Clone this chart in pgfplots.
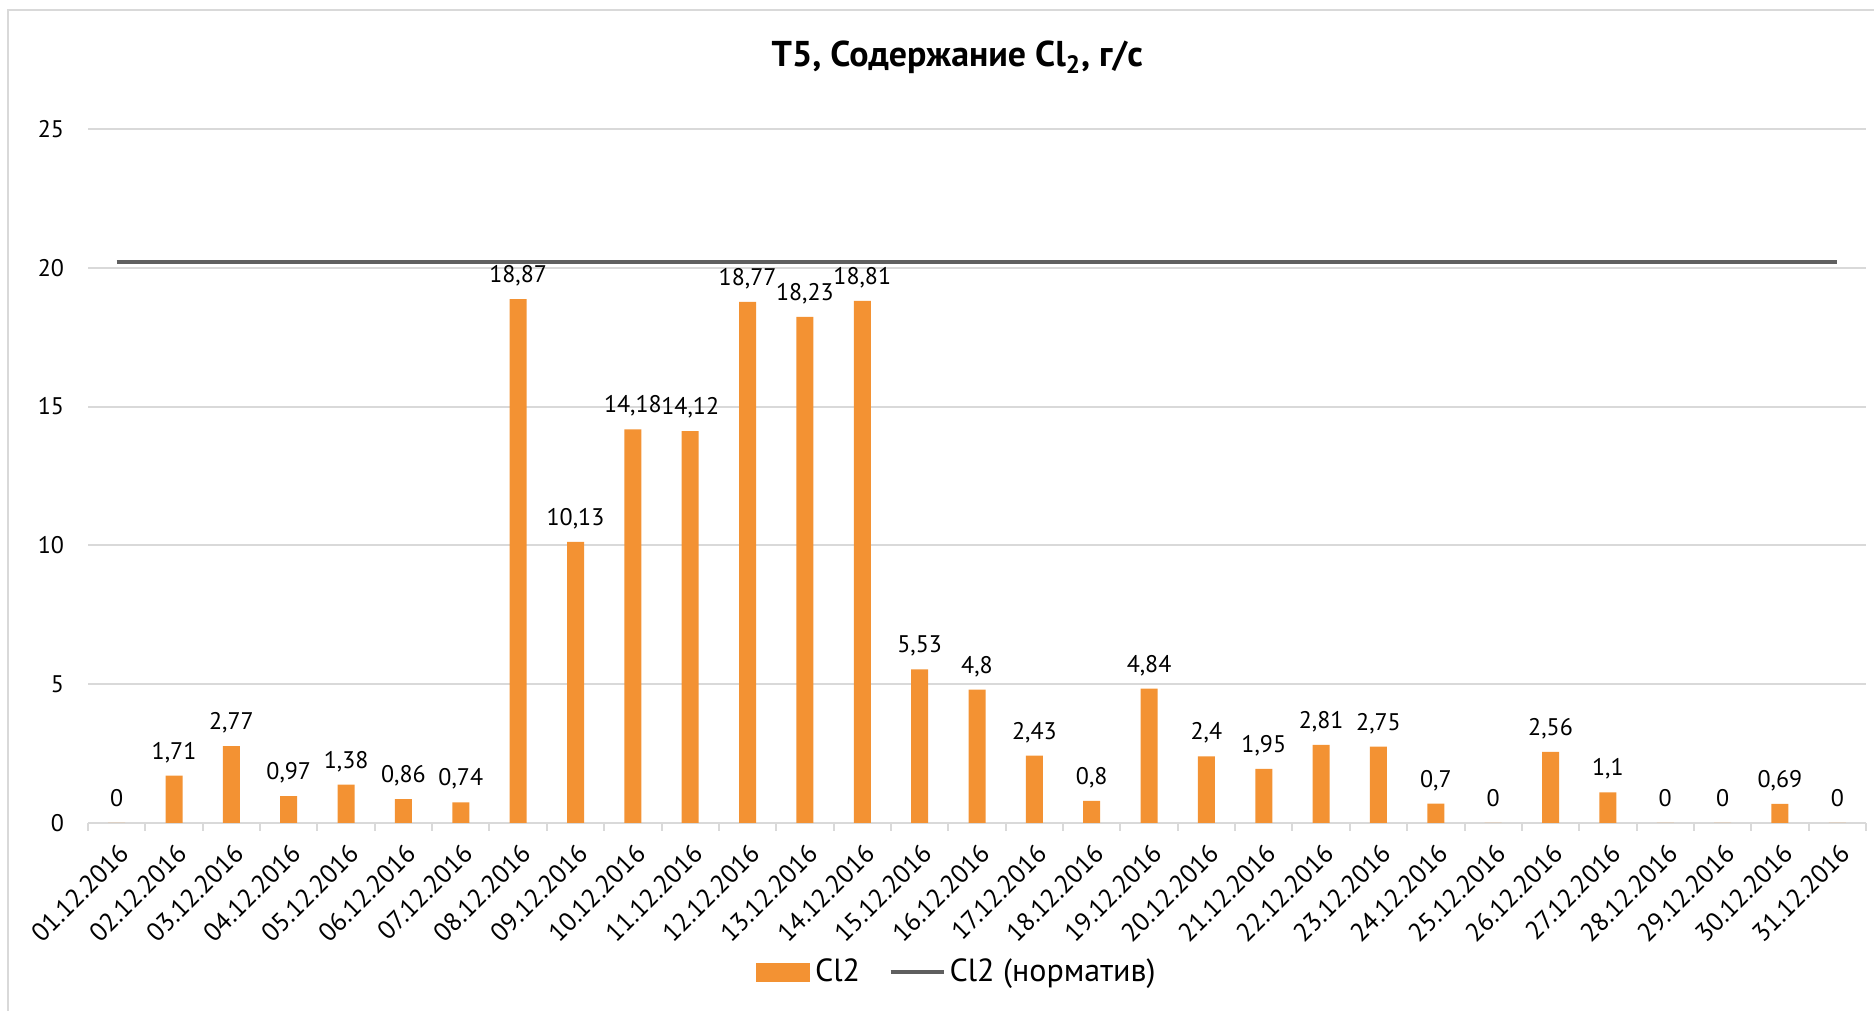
\documentclass[border=0pt]{standalone}
\usepackage{fontspec}
\setmainfont{PT Sans}
\usepackage{pgfplots}
\usepackage{pgfplotstable}
\pgfplotsset{compat=1.18}
\definecolor{barorange}{HTML}{F39233}
\definecolor{normgray}{HTML}{5F5F5F}
\definecolor{gridgray}{HTML}{D9D9D9}
\pgfplotstableread{
x y
1 0
2 1.71
3 2.77
4 0.97
5 1.38
6 0.86
7 0.74
8 18.87
9 10.13
10 14.18
11 14.12
12 18.77
13 18.23
14 18.81
15 5.53
16 4.8
17 2.43
18 0.8
19 4.84
20 2.4
21 1.95
22 2.81
23 2.75
24 0.7
25 0
26 2.56
27 1.1
28 0
29 0
30 0.69
31 0
}\cltable
\pgfplotstableread{
x y
1 20.2
31 20.2
}\normtable
\begin{document}
\begin{tikzpicture}
\useasboundingbox (0,0) rectangle (937pt,505.5pt);
\draw[gridgray, line width=1pt] (4pt,-20pt) -- (4pt,500.5pt) -- (960pt,500.5pt);
\begin{axis}[
  at={(44pt,94pt)}, anchor=south west,
  scale only axis, width=889pt, height=347pt,
  xmin=0.5, xmax=31.5, ymin=0, ymax=25,
  ytick={0,5,10,15,20,25},
  ymajorgrids, grid style={gridgray, line width=1pt},
  axis line style={draw=none},
  ytick style={draw=none},
  xtick={1,...,31},
  xticklabels={01.12.2016,02.12.2016,03.12.2016,04.12.2016,05.12.2016,06.12.2016,07.12.2016,08.12.2016,09.12.2016,10.12.2016,11.12.2016,12.12.2016,13.12.2016,14.12.2016,15.12.2016,16.12.2016,17.12.2016,18.12.2016,19.12.2016,20.12.2016,21.12.2016,22.12.2016,23.12.2016,24.12.2016,25.12.2016,26.12.2016,27.12.2016,28.12.2016,29.12.2016,30.12.2016,31.12.2016},
  xtick style={draw=none},
  xtick pos=left,
  extra x ticks={0.5,1.5,...,31.5},
  extra x tick labels={},
  extra x tick style={xtick style={draw=gridgray, line width=1pt}, major tick length=4pt, tick align=outside, grid=none},
  xticklabel style={xshift=4pt, yshift=-12.8pt, rotate=45, anchor=east, inner sep=0pt, font=\fontsize{13}{15}\selectfont},
  yticklabel style={xshift=-8.5pt, font=\fontsize{12}{14}\selectfont},
  /pgf/number format/assume math mode=true,
  /pgf/number format/use comma,
  title={T5, Содержание Cl\textsubscript{2}, г/с},
  title style={font=\bfseries\fontsize{17.95}{22}\selectfont, at={(0.4889,1)}, anchor=base, yshift=25pt},
  legend style={at={(0.4893,-0.2147)}, anchor=center, draw=none, fill=none,
    font=\fontsize{16}{19}\selectfont, /tikz/every even column/.append style={column sep=12.2pt}},
  legend columns=2,
]
\addplot[ybar, bar width=8.5pt, fill=barorange, draw=none,
  nodes near coords,
  nodes near coords style={anchor=base, yshift=8.25pt, inner sep=0pt, font=\fontsize{12}{14}\selectfont, text=black},
  legend image code/.code={\fill[barorange] (0pt,-4.75pt) rectangle (27pt,4.75pt); \path (27.3pt,0pt);}
] table[x=x,y=y] {\cltable};
\addlegendentry{Cl2}
\addplot[normgray, line width=2pt, mark=none,
  legend image code/.code={\draw[normgray, line width=2pt] (0pt,0pt) -- (26.5pt,0pt);}
] table[x=x,y=y] {\normtable};
\addlegendentry{Cl2 (норматив)}
\end{axis}
\end{tikzpicture}
\end{document}
